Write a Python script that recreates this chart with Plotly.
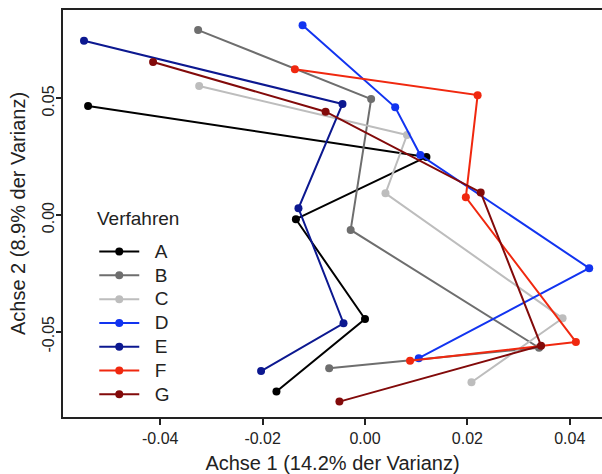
import plotly.graph_objects as go

series_names = ["A", "B", "C", "D", "E", "F", "G"]
series_colors = ["#000000", "#6e6e6e", "#bdbdbd", "#1234f0", "#0c1890", "#f0280f", "#820a0a"]

axis1 = {
    "A": [-0.0541, 0.0120, -0.0135, 0.0000, -0.0173],
    "B": [-0.0326, 0.0012, -0.0028, 0.0340, -0.0070],
    "C": [-0.0324, 0.0082, 0.0040, 0.0386, 0.0208],
    "D": [-0.0122, 0.0059, 0.0108, 0.0438, 0.0105],
    "E": [-0.0549, -0.0044, -0.0130, -0.0042, -0.0203],
    "F": [-0.0137, 0.0220, 0.0197, 0.0412, 0.0088],
    "G": [-0.0414, -0.0077, 0.0226, 0.0344, -0.0050],
}
axis2 = {
    "A": [0.0467, 0.0249, -0.0018, -0.0446, -0.0757],
    "B": [0.0793, 0.0497, -0.0064, -0.0569, -0.0657],
    "C": [0.0553, 0.0343, 0.0093, -0.0443, -0.0717],
    "D": [0.0814, 0.0462, 0.0257, -0.0228, -0.0614],
    "E": [0.0747, 0.0476, 0.0029, -0.0464, -0.0669],
    "F": [0.0625, 0.0514, 0.0076, -0.0544, -0.0625],
    "G": [0.0656, 0.0443, 0.0097, -0.0560, -0.0800],
}

x_ticks = [-0.04, -0.02, 0.00, 0.02, 0.04]
x_tick_labels = ["-0.04", "-0.02", "0.00", "0.02", "0.04"]
y_ticks = [-0.05, 0.00, 0.05]
y_tick_labels = ["-0.05", "0.00", "0.05"]
legend_title = "Verfahren"
x_title = "Achse 1 (14.2% der Varianz)"
y_title = "Achse 2 (8.9% der Varianz)"

FONT = "Liberation Sans, Arial, sans-serif"
TXT = "#222222"

fig = go.Figure()
for name, color in zip(series_names, series_colors):
    fig.add_trace(go.Scatter(
        x=axis1[name], y=axis2[name], mode="lines+markers",
        name='<span style="font-size:19px">\u00a0\u00a0' + name + "</span>",
        line=dict(color=color, width=2),
        marker=dict(color=color, size=8),
    ))

fig.add_annotation(
    text=legend_title, xref="paper", yref="paper",
    x=0.0594, y=0.4865, xanchor="left", yanchor="middle",
    showarrow=False, font=dict(size=19, family=FONT, color=TXT),
)

fig.update_layout(
    width=602, height=474,
    margin=dict(l=63, r=0, t=10, b=57, autoexpand=False),
    paper_bgcolor="white", plot_bgcolor="white",
    font=dict(family=FONT, color=TXT),
    showlegend=True,
    legend=dict(
        x=0.058, y=0.448, xanchor="left", yanchor="top",
        font=dict(size=16, family=FONT, color=TXT),
        bgcolor="rgba(0,0,0,0)",
        itemwidth=40,
    ),
    xaxis=dict(
        range=[-0.0590, 0.0463], automargin=False,
        tickvals=x_ticks, ticktext=x_tick_labels,
        ticks="outside", ticklen=6, tickwidth=1.5, tickcolor=TXT,
        showline=True, linecolor=TXT, linewidth=2, mirror=True,
        showgrid=False, zeroline=False,
        tickfont=dict(size=16, family=FONT, color=TXT),
        title=dict(text=x_title, font=dict(size=20, family=FONT, color=TXT)),
    ),
    yaxis=dict(
        range=[-0.0866, 0.0879], automargin=False,
        tickvals=y_ticks, ticktext=y_tick_labels, tickangle=-90,
        ticklabelstandoff=-4, ticklabelshift=5,
        ticks="outside", ticklen=5, tickwidth=1.5, tickcolor=TXT,
        showline=True, linecolor=TXT, linewidth=2,
        showgrid=False, zeroline=False,
        tickfont=dict(size=16, family=FONT, color=TXT),
        title=dict(text=y_title + "\u00a0\u00a0\u00a0", font=dict(size=20, family=FONT, color=TXT), standoff=9),
    ),
)

fig.write_html("out.html", config={"displayModeBar": False},
               post_script="document.body.style.margin='0px';")
